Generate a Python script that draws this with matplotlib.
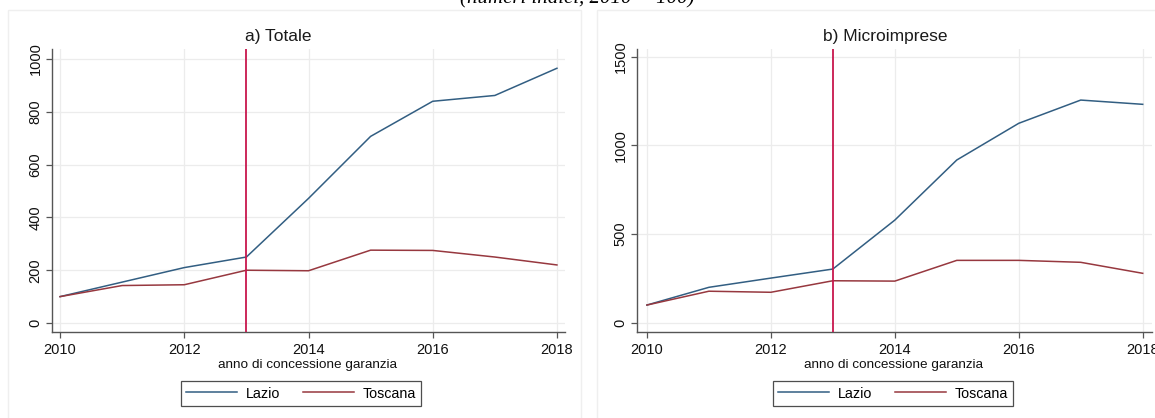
import matplotlib.pyplot as plt
from matplotlib.patches import Rectangle

plt.rcParams["font.family"] = ["Liberation Sans", "DejaVu Sans"]

years = [2010, 2011, 2012, 2013, 2014, 2015, 2016, 2017, 2018]

# indici 2010 = 100
totale_lazio = [100, 155, 210, 250, 472, 707, 840, 862, 965]
totale_toscana = [100, 142, 145, 200, 198, 276, 275, 250, 220]
micro_lazio = [100, 200, 252, 303, 579, 918, 1125, 1256, 1232]
micro_toscana = [100, 178, 172, 237, 235, 352, 352, 341, 279]

titles = ["a) Totale", "b) Microimprese"]
yticks = [[0, 200, 400, 600, 800, 1000], [0, 500, 1000, 1500]]
ylims = [(-34, 1038), (-52, 1544)]
xlims = [(2009.87, 2018.13), (2009.84, 2018.15)]
xticks = [2010, 2012, 2014, 2016, 2018]
series_names = ["Lazio", "Toscana"]
event_year = 2013

W, H = 1155, 418
fig = plt.figure(figsize=(W / 100, H / 100), dpi=100)
fig.patch.set_facecolor("white")

# cornici leggere dei due pannelli
for x0, x1 in [(8, 581), (597, 1165)]:
    fig.patches.append(Rectangle((x0 / W, -0.02), (x1 - x0) / W, 1 - 10 / H + 0.02,
                                 transform=fig.transFigure, fill=False,
                                 edgecolor="#efefef", lw=1.0))

fig.text(577 / W, 1 - 3.5 / H, "(numeri indici, 2010 = 100)", ha="center", va="baseline",
         fontsize=15, style="italic", family=["Liberation Serif", "DejaVu Serif"])

axes_px = [(52, 565), (637, 1152)]
title_x = [278, 885]
legend_x = [301, 893]
data = [(totale_lazio, totale_toscana), (micro_lazio, micro_toscana)]
colors = ["#325e82", "#97383f"]

for i in range(2):
    l, r = axes_px[i]
    ax = fig.add_axes([l / W, 1 - 332 / H, (r - l) / W, (332 - 49) / H])
    for vals, name, c in zip(data[i], series_names, colors):
        ax.plot(years, vals, color=c, lw=1.1, label=name, zorder=3)
    ax.axvline(event_year, color="#c8174d", lw=1.3, zorder=4)

    ax.set_xlim(*xlims[i])
    ax.set_ylim(*ylims[i])
    ax.set_xticks(xticks)
    ax.set_yticks(yticks[i])
    ax.set_yticklabels([str(v) for v in yticks[i]], rotation=90, va="center")
    ax.tick_params(axis="both", direction="out", length=4.3, width=0.9, color="#555555",
                   labelsize=10.5, labelcolor="#111111")
    ax.tick_params(axis="y", pad=2.5)
    ax.tick_params(axis="x", pad=3.5)
    ax.grid(True, color="#ececec", lw=0.9, zorder=0)
    for side in ["top", "right"]:
        ax.spines[side].set_visible(False)
    for side in ["left", "bottom"]:
        ax.spines[side].set_color("#555555")
        ax.spines[side].set_linewidth(1.0)

    fig.text(title_x[i] / W, 1 - 37 / H, titles[i], ha="center", va="center",
             fontsize=12.5, color="#1a1a1a")
    fig.text(((l + r) / 2 - 1) / W, 1 - 365 / H, "anno di concessione garanzia",
             ha="center", va="center", fontsize=9.7, color="#111111")

    leg = fig.legend(handles=ax.get_lines()[:2], labels=series_names, loc="center",
                     bbox_to_anchor=(legend_x[i] / W, 1 - 393.5 / H), ncol=2,
                     fontsize=10.3, frameon=True, fancybox=False, handlelength=3.6,
                     columnspacing=1.6, handletextpad=0.6, borderpad=0.35)
    leg.get_frame().set_edgecolor("#222222")
    leg.get_frame().set_linewidth(0.9)

fig.savefig("out.png", dpi=100, facecolor="white")
